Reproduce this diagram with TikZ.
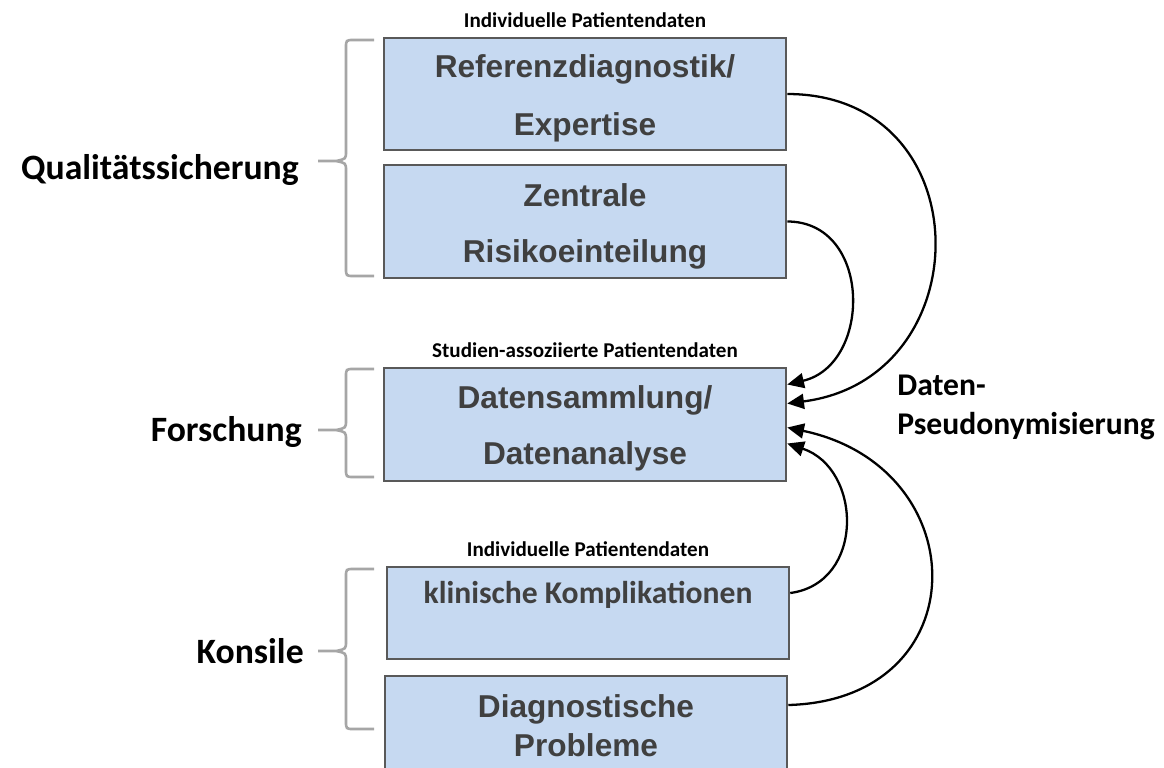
\documentclass[tikz,border=0pt]{standalone}
\usepackage{fontspec}
\setmainfont{Carlito}
\newfontfamily\boxfont{Liberation Sans}
\usetikzlibrary{positioning,calc,arrows.meta}
\definecolor{boxfill}{RGB}{198,217,241}
\definecolor{boxline}{RGB}{89,89,89}
\definecolor{boxtext}{RGB}{64,64,64}
\definecolor{bracegray}{RGB}{166,166,166}

\begin{document}
\begin{tikzpicture}[x=0.02cm,y=-0.02cm,
    panel/.style={draw=boxline,fill=boxfill,line width=1.5pt,minimum width=8.04cm,inner sep=0pt,text=boxtext,align=center},
    tag/.style={font=\fontsize{12}{14}\selectfont\bfseries,inner sep=0pt},
    grouplabel/.style={font=\fontsize{20.3}{24}\selectfont\bfseries,inner sep=0pt},
    grpbrace/.style={draw=bracegray,line width=1.5pt},
    flow/.style={-{Triangle[length=9.5pt,width=8.5pt]},line width=1.3pt}]
    \useasboundingbox[fill=white] (0,0) rectangle (1164,768);

    % boxes
    \node[panel,minimum height=2.24cm,font=\boxfont\bfseries\fontsize{18}{33.5}\selectfont] (ref) at (585,94) {\rule{0pt}{18pt}Referenzdiagnostik/\\Expertise};
    \node[panel,minimum height=2.26cm,font=\boxfont\bfseries\fontsize{18}{32}\selectfont] (risk) at (585,221.5) {\rule{0pt}{19pt}Zentrale\\Risikoeinteilung};
    \node[panel,minimum height=2.26cm,font=\boxfont\bfseries\fontsize{18}{32}\selectfont] (data) at (585,424.5) {\rule{0pt}{17.5pt}Datensammlung/\\Datenanalyse};
    \node[panel,minimum height=1.84cm,text depth=24pt,font=\fontsize{18}{20}\selectfont\bfseries] (clin) at (588,613) {klinische Komplikationen};
    \node[panel,minimum height=2cm,font=\boxfont\bfseries\fontsize{18}{22}\selectfont] (diag) at (586,726) {Diagnostische\\Probleme};

    \node[tag,above=0.18cm of ref] (tagref) {Individuelle Patientendaten};
    \node[tag,above=0.18cm of data] (tagdata) {Studien-assoziierte Patientendaten};
    \node[tag,above=0.18cm of clin] (tagclin) {Individuelle Patientendaten};

    % groups
    \foreach \ya/\ym/\yb in {40/161/276, 369/430/477, 569/651/729} {
        \draw[grpbrace] (374,\ya) -- (354,\ya) .. controls (346,\ya) .. (346,\ya+8) -- (346,\ym-10)
            .. controls (346,\ym-2) .. (336,\ym) -- (318,\ym)
            (336,\ym) .. controls (346,\ym+2) .. (346,\ym+10) -- (346,\yb-8)
            .. controls (346,\yb) .. (354,\yb) -- (374,\yb);
    }
    \node[grouplabel,anchor=base east] (qs) at (299,179) {Qualitätssicherung};
    \node[grouplabel,anchor=base east] (fo) at (302,441) {Forschung};
    \node[grouplabel,anchor=base east] (ko) at (304,663) {Konsile};
    \node[grouplabel,anchor=north west,align=left,font=\fontsize{18}{22}\selectfont\bfseries] (pseudo) at (897,375) {Daten-\\Pseudonymisierung};

    % arrows into data box
    \draw[flow] (ref.east) .. controls +(195,0) and +(195,-25) .. ($(data.east)+(0,-21)$);
    \draw[flow] (risk.east) .. controls +(85,0) and +(85,-20) .. ($(data.east)+(0,-40)$);
    \draw[flow] ($(diag.east)+(0,-21)$) .. controls +(190,-5) and +(190,40) .. ($(data.east)+(0,3)$);
    \draw[flow] ($(clin.east)+(0,-20)$) .. controls +(75,-10) and +(75,25) .. ($(data.east)+(0,19)$);
\end{tikzpicture}
\end{document}
